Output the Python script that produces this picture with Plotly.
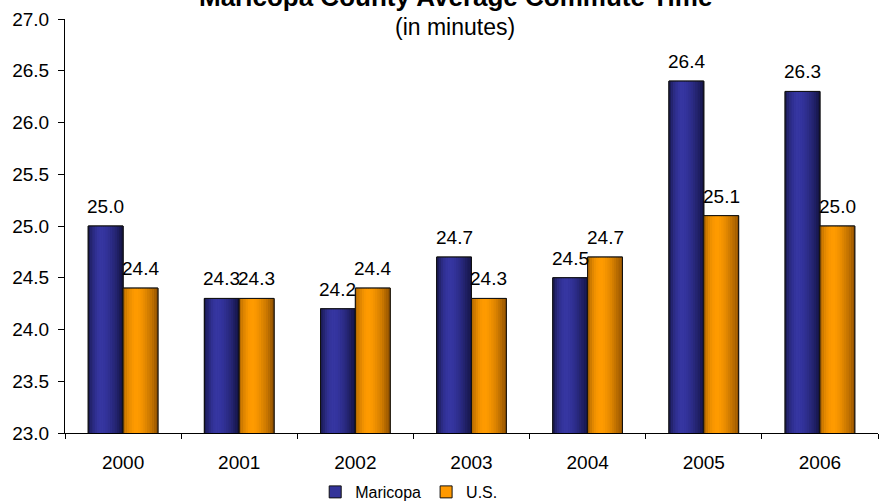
import plotly.graph_objects as go

years = ["2000", "2001", "2002", "2003", "2004", "2005", "2006"]
maricopa = [25.0, 24.3, 24.2, 24.7, 24.5, 26.4, 26.3]
us = [24.4, 24.3, 24.4, 24.3, 24.7, 25.1, 25.0]
series_names = ["Maricopa", "U.S."]
title_text = "Maricopa County Average Commute Time"
subtitle_text = "(in minutes)"

FONT = "Liberation Sans, Arial, sans-serif"
W, H = 880, 501
ML, MR, MT, MB = 65, 2, 19, 68
BAR_W = 0.30
K = 16  # gradient strips
CAT_PX = (W - ML - MR) / len(years)
BAR_PX = BAR_W * CAT_PX


def lerp(a, b, t):
    return tuple(int(round(a[i] + (b[i] - a[i]) * t)) for i in range(3))


def shade(t, left, peak, right, peak_pos=0.38):
    if t <= peak_pos:
        u = t / peak_pos
        u = 1 - (1 - u) ** 2
        c = lerp(left, peak, u)
    else:
        u = (t - peak_pos) / (1 - peak_pos)
        u = u ** 1.6
        c = lerp(peak, right, u)
    return "rgb(%d,%d,%d)" % c


styles = [
    dict(base="#333399", left=(22, 22, 72), peak=(54, 54, 162), right=(18, 18, 62),
         offset=-BAR_W, shift=-BAR_PX / 2),
    dict(base="#FF9900", left=(168, 98, 0), peak=(255, 155, 0), right=(140, 78, 0),
         offset=0.0, shift=BAR_PX / 2),
]

fig = go.Figure()
annotations = []
for name, vals, st in zip(series_names, [maricopa, us], styles):
    # base (legend) trace
    fig.add_trace(go.Bar(
        x=years, y=vals, name=name, offset=st["offset"], width=BAR_W,
        marker=dict(color=st["base"], line=dict(color="#111111", width=1)),
        showlegend=True, hoverinfo="skip",
    ))
    # gradient strips
    sw = BAR_W / K
    for k in range(K):
        t = (k + 0.5) / K
        fig.add_trace(go.Bar(
            x=years, y=vals, offset=st["offset"] + k * sw, width=sw * 1.08,
            marker=dict(color=shade(t, st["left"], st["peak"], st["right"]), line=dict(width=0)),
            showlegend=False, hoverinfo="skip",
        ))
    # outline
    fig.add_trace(go.Bar(
        x=years, y=vals, offset=st["offset"], width=BAR_W,
        marker=dict(color="rgba(0,0,0,0)", line=dict(color="#111111", width=1)),
        showlegend=False, hovertemplate="%{x}: %{y:.1f}<extra>" + name + "</extra>",
    ))
    # value labels (category index positions on the category axis)
    for i, v in enumerate(vals):
        annotations.append(dict(
            x=i, y=v, xref="x", yref="y", text="%.1f" % v, showarrow=False,
            xanchor="center", yanchor="bottom", xshift=st["shift"], yshift=7,
            font=dict(family=FONT, size=19, color="black"),
        ))

annotations += [
    dict(text="<b>" + title_text + "</b>", xref="paper", yref="paper",
         x=0.48, y=1, xanchor="center", yanchor="bottom", yshift=5, showarrow=False,
         font=dict(family=FONT, size=26, color="black")),
    dict(text=subtitle_text, xref="paper", yref="paper",
         x=0.48, y=1, xanchor="center", yanchor="bottom", yshift=-23, showarrow=False,
         font=dict(family=FONT, size=23, color="black")),
]

fig.update_layout(
    width=W, height=H,
    margin=dict(l=ML, r=MR, t=MT, b=MB, autoexpand=False),
    paper_bgcolor="white", plot_bgcolor="white",
    barmode="overlay",
    font=dict(family=FONT, color="black"),
    showlegend=True,
    legend=dict(
        orientation="h", xref="container", yref="container",
        x=0.465, xanchor="center", y=0.018, yanchor="middle",
        font=dict(family=FONT, size=16, color="black"),
        itemwidth=30, tracegroupgap=0,
    ),
    xaxis=dict(
        type="category", showgrid=False, showline=True, linecolor="black", linewidth=1,
        ticks="outside", tickson="boundaries", ticklen=5, tickcolor="black",
        tickfont=dict(family=FONT, size=19, color="black"),
        ticklabelstandoff=12, range=[-0.5, 6.5],
    ),
    yaxis=dict(
        range=[23, 27], dtick=0.5, tickformat=".1f", showgrid=False, zeroline=False,
        showline=True, linecolor="black", linewidth=1,
        ticks="outside", ticklen=6, tickcolor="black",
        tickfont=dict(family=FONT, size=19, color="black"),
        ticklabelstandoff=5,
    ),
    annotations=annotations,
)

fig.write_html("out.html", config={"displayModeBar": False},
               post_script="document.body.style.margin='0';")
